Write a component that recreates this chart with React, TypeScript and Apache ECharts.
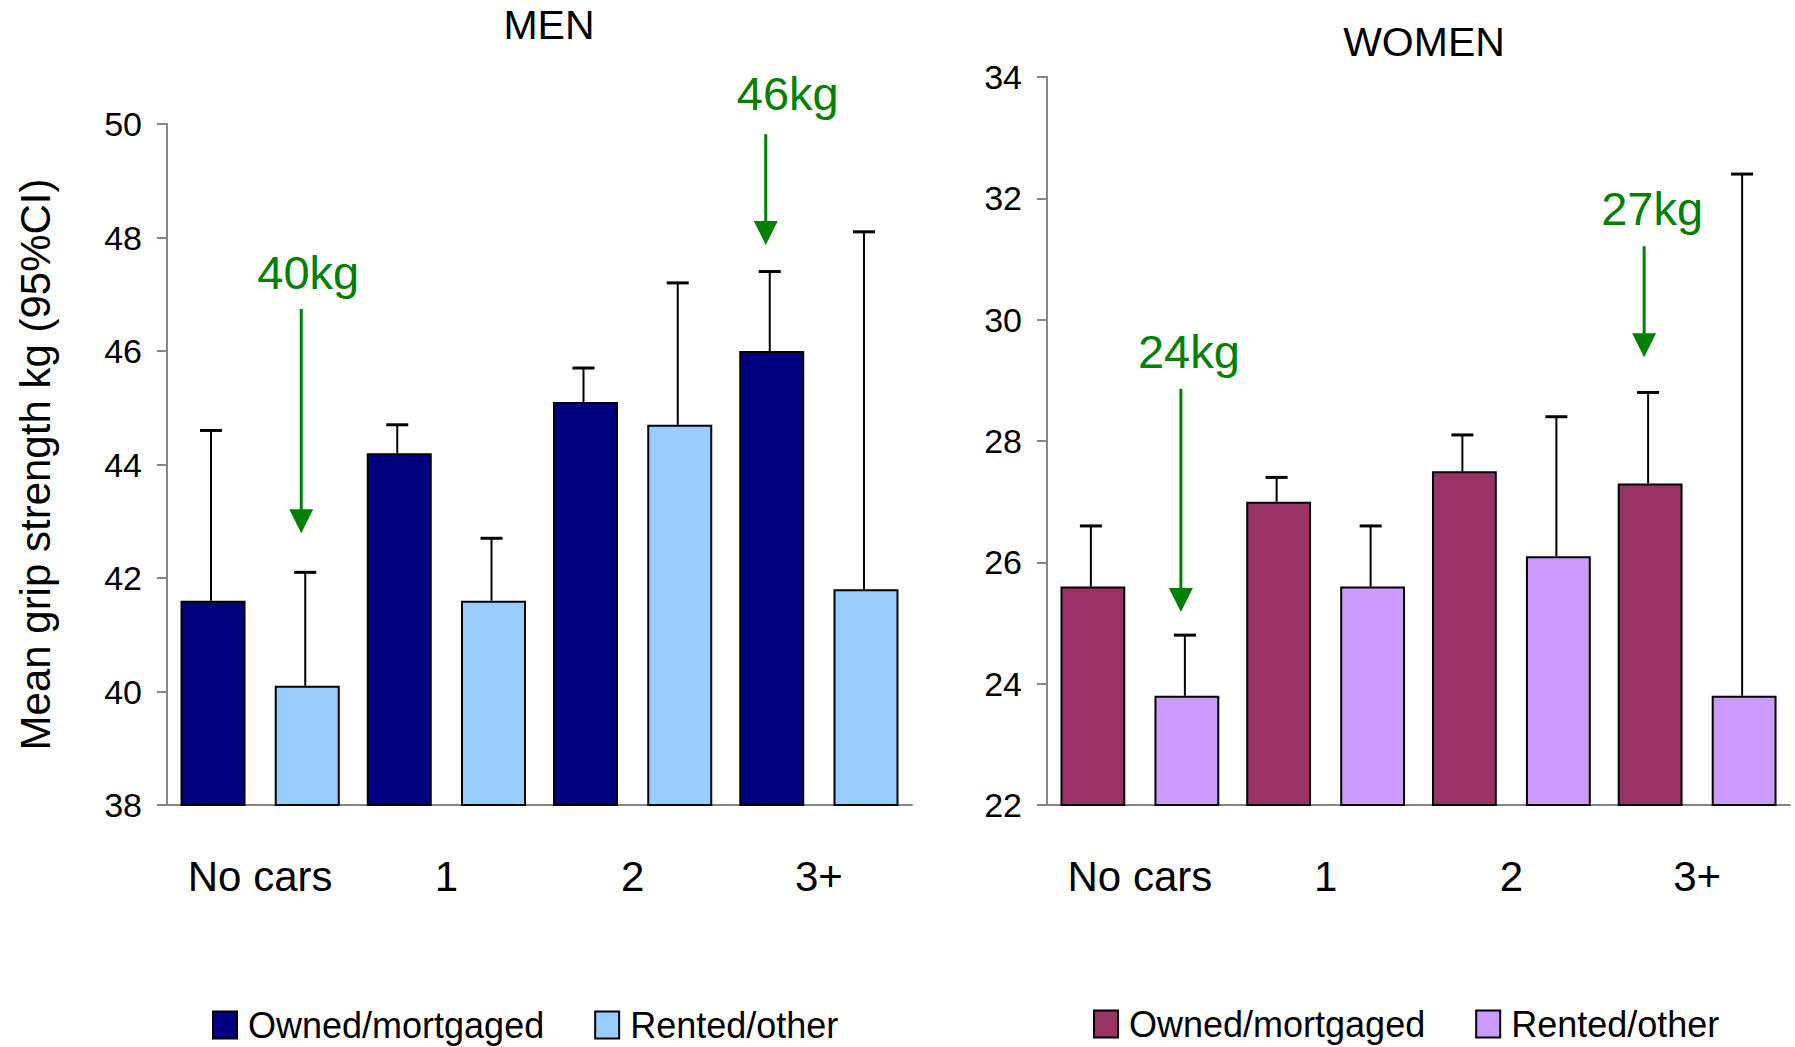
import React, { useEffect, useRef } from "react";
import * as echarts from "echarts";

const categories = ["No cars", "1", "2", "3+"];
const seriesNames = ["Owned/mortgaged", "Rented/other"];

const menOwned = [41.6, 44.2, 45.1, 46.0];
const menOwnedUpper = [44.6, 44.7, 45.7, 47.4];
const menRented = [40.1, 41.6, 44.7, 41.8];
const menRentedUpper = [42.1, 42.7, 47.2, 48.1];

const womenOwned = [25.6, 27.0, 27.5, 27.3];
const womenOwnedUpper = [26.6, 27.4, 28.1, 28.8];
const womenRented = [23.8, 25.6, 26.1, 23.8];
const womenRentedUpper = [24.8, 26.6, 28.4, 32.4];

const menTicks = { min: 38, max: 50, interval: 2 };
const womenTicks = { min: 22, max: 34, interval: 2 };

// annotations: panel, category, bar slot, label, text value, arrow start value, arrow tip value
const annotationLabels = ["40kg", "46kg", "24kg", "27kg"];
const annotationPanel = [0, 0, 1, 1];
const annotationCategory = [0, 3, 0, 3];
const annotationSlot = [1, 0, 1, 0];
const annotationTextValue = [47.39, 50.53, 29.47, 31.84];
const annotationStartValue = [46.74, 49.82, 28.86, 31.21];
const annotationTipValue = [42.79, 47.87, 25.18, 29.38];

const FONT = "'Liberation Sans', Arial, Helvetica, sans-serif";
const GREEN = "#008000";
const AXIS_GRAY = "#858585";
const CAT_GAP = 0.145;
const BAR_GAP = 0.45;

const colors = {
  men: ["#000080", "#99CCFF"],
  women: ["#993366", "#CC99FF"],
};

function barGeom(catWidth: number, slot: number) {
  const bw = (catWidth * (1 - CAT_GAP)) / (2 + BAR_GAP);
  const off = ((slot === 0 ? -1 : 1) * (bw + bw * BAR_GAP)) / 2;
  return { bw, off };
}

function errorSeries(name: string, gridIdx: number, slot: number, vals: number[], uppers: number[]) {
  return {
    type: "custom",
    name: name + "-err",
    xAxisIndex: gridIdx,
    yAxisIndex: gridIdx,
    z: 5,
    silent: true,
    data: vals.map((v, i) => [i, v, uppers[i]]),
    renderItem: (params: any, api: any) => {
      const c = api.coord([api.value(0), api.value(1)]);
      const u = api.coord([api.value(0), api.value(2)]);
      const cw = api.size([1, 0])[0];
      const { off } = barGeom(cw, slot);
      const x = c[0] + off - 2;
      return {
        type: "group",
        children: [
          {
            type: "line",
            shape: { x1: x, y1: c[1], x2: x, y2: u[1] },
            style: { stroke: "#000", lineWidth: 2 },
          },
          {
            type: "line",
            shape: { x1: x - 11, y1: u[1], x2: x + 11, y2: u[1] },
            style: { stroke: "#000", lineWidth: 3 },
          },
        ],
      };
    },
  };
}

function barSeries(name: string, gridIdx: number, data: number[], color: string) {
  return {
    type: "bar",
    name,
    xAxisIndex: gridIdx,
    yAxisIndex: gridIdx,
    data,
    barGap: BAR_GAP * 100 + "%",
    barCategoryGap: CAT_GAP * 100 + "%",
    itemStyle: { color, borderColor: "#000", borderWidth: 2 },
    z: 2,
  };
}

const axisLineStyle = { show: true, lineStyle: { color: AXIS_GRAY, width: 2 } };

function xAxis(gridIdx: number) {
  return {
    type: "category",
    gridIndex: gridIdx,
    data: categories,
    axisLine: axisLineStyle,
    axisTick: { show: false },
    axisLabel: { color: "#000", fontSize: 42, fontFamily: FONT, margin: 50, interval: 0 },
    splitLine: { show: false },
  };
}

function yAxis(gridIdx: number, t: { min: number; max: number; interval: number }, name?: string) {
  return {
    type: "value",
    gridIndex: gridIdx,
    min: t.min,
    max: t.max,
    interval: t.interval,
    axisLine: axisLineStyle,
    axisTick: { show: true, length: 10, lineStyle: { color: AXIS_GRAY, width: 2 } },
    axisLabel: { color: "#000", fontSize: 34, fontFamily: FONT, margin: 25 },
    splitLine: { show: false },
    name: name || "",
    nameLocation: "middle",
    nameGap: 111,
    nameRotate: 90,
    nameTextStyle: { color: "#000", fontSize: 42, fontFamily: FONT },
  };
}

function legend(left: number, top: number, data: string[], formatter?: (n: string) => string) {
  const l: any = {
    left,
    top,
    padding: 0,
    orient: "horizontal",
    icon: "rect",
    itemWidth: 24,
    itemHeight: 27,
    itemGap: 50,
    data,
    textStyle: { color: "#000", fontSize: 36, fontFamily: FONT, padding: [0, 0, 0, 6] },
    itemStyle: { borderColor: "#000", borderWidth: 2 },
    selectedMode: false,
  };
  if (formatter) l.formatter = formatter;
  return l;
}

export default function App() {
  const ref = useRef<HTMLDivElement>(null);

  useEffect(() => {
    if (!ref.current) return;
    const chart = echarts.init(ref.current, undefined, { renderer: "svg" });
    const wPrefix = "W:";
    const option: any = {
      animation: false,
      backgroundColor: "#fff",
      textStyle: { fontFamily: FONT },
      grid: [
        { left: 167, top: 124, width: 745, height: 681 },
        { left: 1047, top: 77, width: 743, height: 728 },
      ],
      xAxis: [xAxis(0), xAxis(1)],
      yAxis: [yAxis(0, menTicks, "Mean grip strength kg (95%CI)"), yAxis(1, womenTicks)],
      legend: [
        legend(212, 1007, seriesNames),
        legend(1093, 1006, seriesNames.map((n) => wPrefix + n), (n: string) => n.replace(wPrefix, "")),
      ],
      series: [
        barSeries(seriesNames[0], 0, menOwned, colors.men[0]),
        barSeries(seriesNames[1], 0, menRented, colors.men[1]),
        barSeries(wPrefix + seriesNames[0], 1, womenOwned, colors.women[0]),
        barSeries(wPrefix + seriesNames[1], 1, womenRented, colors.women[1]),
        errorSeries("mo", 0, 0, menOwned, menOwnedUpper),
        errorSeries("mr", 0, 1, menRented, menRentedUpper),
        errorSeries("wo", 1, 0, womenOwned, womenOwnedUpper),
        errorSeries("wr", 1, 1, womenRented, womenRentedUpper),
      ],
    };
    chart.setOption(option);

    const textDx = [1, 16, 2, 2];
    const arrowDx = -6;
    const graphics: any[] = [
      {
        type: "text",
        x: 549,
        y: 25,
        style: { text: "MEN", fontSize: 41, fontFamily: FONT, fill: "#000", align: "center", verticalAlign: "middle" },
      },
      {
        type: "text",
        x: 1424,
        y: 42,
        style: { text: "WOMEN", fontSize: 41, fontFamily: FONT, fill: "#000", align: "center", verticalAlign: "middle" },
      },
    ];
    annotationLabels.forEach((label, i) => {
      const g = annotationPanel[i];
      const cat = annotationCategory[i];
      const finder: any = { gridIndex: g };
      const p0 = chart.convertToPixel(finder, [0, annotationTipValue[i]]) as number[];
      const p1 = chart.convertToPixel(finder, [1, annotationTipValue[i]]) as number[];
      const cw = p1[0] - p0[0];
      const { off } = barGeom(cw, annotationSlot[i]);
      const tip = chart.convertToPixel(finder, [cat, annotationTipValue[i]]) as number[];
      const center = tip[0] + off;
      const tipY = tip[1];
      const startY = (chart.convertToPixel(finder, [cat, annotationStartValue[i]]) as number[])[1];
      const textY = (chart.convertToPixel(finder, [cat, annotationTextValue[i]]) as number[])[1];
      const ax = center + arrowDx;
      graphics.push(
        {
          type: "text",
          x: center + textDx[i],
          y: textY,
          style: { text: label, fontSize: 47, fontFamily: FONT, fill: GREEN, align: "center", verticalAlign: "middle" },
        },
        {
          type: "line",
          shape: { x1: ax, y1: startY, x2: ax, y2: tipY - 20 },
          style: { stroke: GREEN, lineWidth: 3 },
        },
        {
          type: "polygon",
          shape: { points: [[ax - 12, tipY - 24], [ax + 12, tipY - 24], [ax, tipY]] },
          style: { fill: GREEN },
        }
      );
    });
    chart.setOption({ graphic: graphics });

    return () => chart.dispose();
  }, []);

  return (
    <div
      ref={ref}
      style={{ position: "absolute", left: 0, top: 0, width: 1795, height: 1047, background: "#fff" }}
    />
  );
}
